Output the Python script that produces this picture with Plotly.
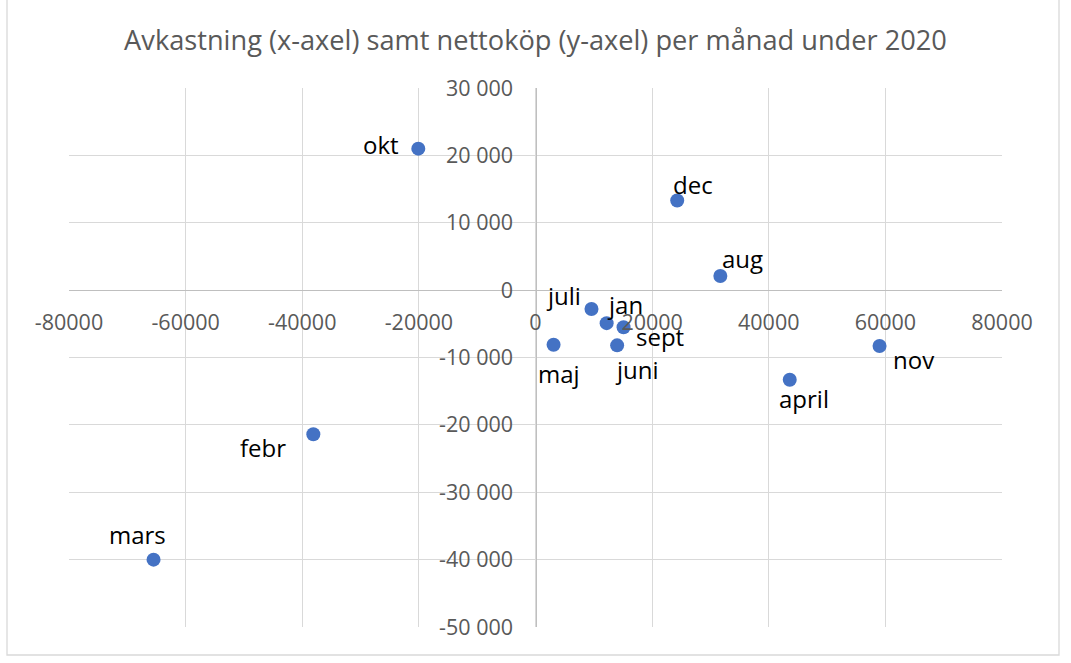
import plotly.graph_objects as go

# ---- data ----
months = ["jan", "febr", "mars", "april", "maj", "juni", "juli", "aug", "sept", "okt", "nov", "dec"]
avkastning = [12200, -38100, -65500, 43600, 3100, 14000, 9600, 31700, 15100, -20100, 59000, 24300]
nettokop = [-4900, -21400, -40000, -13300, -8100, -8200, -2800, 2100, -5500, 21000, -8300, 13300]

x_tickvals = [-80000, -60000, -40000, -20000, 0, 20000, 40000, 60000, 80000]
x_ticktext = ["-80000", "-60000", "-40000", "-20000", "0", "20000", "40000", "60000", "80000"]
y_tickvals = [30000, 20000, 10000, 0, -10000, -20000, -30000, -40000, -50000]
y_ticktext = ["30 000", "20 000", "10 000", "0", "-10 000", "-20 000", "-30 000", "-40 000", "-50 000"]

title_text = "Avkastning (x-axel) samt nettoköp (y-axel) per månad under 2020"

# label offsets in pixels (style)
label_dx = {"jan": 18, "febr": -50, "mars": -16, "april": 14, "maj": 5, "juni": 20,
            "juli": -28, "aug": 22, "sept": 36, "okt": -37, "nov": 34, "dec": 16}
label_dy = {"jan": 18, "febr": -14, "mars": 24, "april": -20, "maj": -30, "juni": -25,
            "juli": 12, "aug": 16, "sept": -10, "okt": 3, "nov": -14, "dec": 15}

FONT = "Open Sans"
W, H = 1071, 663
ML, MR, MT, MB = 69, 69, 88, 36

fig = go.Figure()
fig.add_trace(go.Scatter(
    x=avkastning, y=nettokop, mode="markers",
    marker=dict(color="#4472C4", size=14, line=dict(width=0)),
    hoverinfo="skip", showlegend=False, cliponaxis=False,
))

annotations = []
for m, xv, yv in zip(months, avkastning, nettokop):
    annotations.append(dict(
        x=xv, y=yv, xref="x", yref="y", text=m, showarrow=False,
        xanchor="center", yanchor="middle",
        xshift=label_dx[m], yshift=label_dy[m] + 1,
        font=dict(family=FONT, size=24, color="#000000"),
    ))

pw = W - ML - MR
ph = H - MT - MB
shapes = [dict(
    type="rect", xref="paper", yref="paper",
    x0=(7 - ML) / pw, x1=(1059 - ML) / pw,
    y0=-(655 - (H - MB)) / ph, y1=(H - MB + 5) / ph,
    line=dict(color="#d9d9d9", width=1.3), fillcolor="rgba(0,0,0,0)", layer="below",
)]

fig.update_layout(
    width=W, height=H, autosize=False,
    margin=dict(l=ML, r=MR, t=MT, b=MB, pad=0),
    paper_bgcolor="white", plot_bgcolor="white",
    title=dict(text=title_text, x=0.5, xref="paper", xanchor="center",
               y=1 - 40 / H, yref="container", yanchor="middle",
               font=dict(family=FONT, size=27.2, color="#595959")),
    annotations=annotations,
    shapes=shapes,
    xaxis=dict(
        range=[-80000, 80000], tickvals=x_tickvals, ticktext=x_ticktext,
        showgrid=True, gridcolor="#d9d9d9", gridwidth=1.3,
        zeroline=False, showline=True, linecolor="#bfbfbf", linewidth=1.3,
        anchor="free", position=0.625, ticks="", ticklabelstandoff=13,
        tickfont=dict(family=FONT, size=21.5, color="#595959"),
        fixedrange=True,
    ),
    yaxis=dict(
        range=[-50000, 30000], tickvals=y_tickvals, ticktext=y_ticktext,
        showgrid=True, gridcolor="#d9d9d9", gridwidth=1.3,
        zeroline=False, showline=True, linecolor="#bfbfbf", linewidth=1.3,
        anchor="free", position=0.5, ticks="", ticklabelstandoff=18,
        tickfont=dict(family=FONT, size=21.5, color="#595959"),
        fixedrange=True,
    ),
)

fig.write_html("out.html", config={"displayModeBar": False},
               post_script="document.body.style.margin='0';document.body.style.padding='0';")
